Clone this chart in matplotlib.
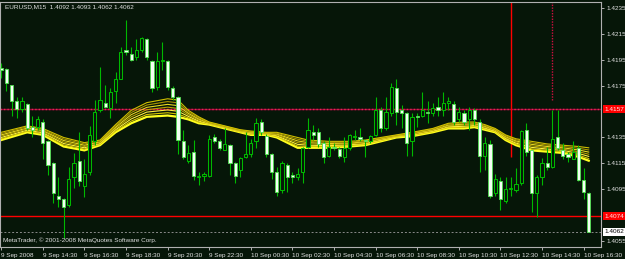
import matplotlib
matplotlib.use("Agg")
import matplotlib.pyplot as plt
from matplotlib.patches import Rectangle

# EURUSD M15, 9 Sep 12:30 .. 10 Sep 16:45
opens = [1.4189, 1.4188, 1.4176, 1.4163, 1.4157, 1.4161, 1.4143, 1.4143, 1.4147, 1.4132,
         1.4115, 1.4090, 1.4087, 1.4083, 1.4104, 1.4117, 1.4097, 1.4108, 1.4132, 1.4156,
         1.4162, 1.4158, 1.4171, 1.4180, 1.4203, 1.4200, 1.4197, 1.4203, 1.4211, 1.4194,
         1.4174, 1.4194, 1.4194, 1.4173, 1.4166, 1.4132, 1.4117, 1.4124, 1.4104, 1.4105,
         1.4105, 1.4135, 1.4132, 1.4125, 1.4129, 1.4115, 1.4110, 1.4120, 1.4122, 1.4132,
         1.4147, 1.4136, 1.4122, 1.4108, 1.4094, 1.4114, 1.4106, 1.4104, 1.4108, 1.4128,
         1.4139, 1.4139, 1.4131, 1.4121, 1.4128, 1.4126, 1.4120, 1.4127, 1.4135, 1.4135,
         1.4133, 1.4132, 1.4137, 1.4156, 1.4142, 1.4154, 1.4173, 1.4156, 1.4154, 1.4132,
         1.4152, 1.4152, 1.4155, 1.4154, 1.4159, 1.4156, 1.4162, 1.4161, 1.4149, 1.4154,
         1.4149, 1.4156, 1.4147, 1.4121, 1.4130, 1.4092, 1.4101, 1.4086, 1.4095, 1.4094,
         1.4100, 1.4141, 1.4125, 1.4092, 1.4104, 1.4115, 1.4112, 1.4135, 1.4125, 1.4122,
         1.4118, 1.4127, 1.4102, 1.4092]
highs = [1.4193, 1.4189, 1.4176, 1.4166, 1.4166, 1.4162, 1.4152, 1.4152, 1.4149, 1.4133,
         1.4116, 1.4104, 1.4088, 1.4112, 1.4123, 1.4139, 1.4118, 1.4144, 1.4164, 1.4190,
         1.4176, 1.4173, 1.4186, 1.4205, 1.4226, 1.4205, 1.4211, 1.4213, 1.4212, 1.4195,
         1.4201, 1.4209, 1.4195, 1.4175, 1.4167, 1.4141, 1.4129, 1.4133, 1.4108, 1.4108,
         1.4137, 1.4138, 1.4134, 1.4142, 1.4130, 1.4116, 1.4120, 1.4139, 1.4134, 1.4150,
         1.4149, 1.4138, 1.4123, 1.4112, 1.4117, 1.4115, 1.4108, 1.4111, 1.4128, 1.4150,
         1.4145, 1.4142, 1.4132, 1.4135, 1.4131, 1.4128, 1.4135, 1.4138, 1.4141, 1.4142,
         1.4134, 1.4137, 1.4166, 1.4159, 1.4166, 1.4177, 1.4180, 1.4160, 1.4155, 1.4154,
         1.4154, 1.4170, 1.4163, 1.4162, 1.4166, 1.4170, 1.4166, 1.4163, 1.4159, 1.4156,
         1.4159, 1.4158, 1.4149, 1.4135, 1.4133, 1.4107, 1.4104, 1.4104, 1.4104, 1.4111,
         1.4141, 1.4146, 1.4125, 1.4106, 1.4119, 1.4128, 1.4156, 1.4156, 1.4131, 1.4124,
         1.4132, 1.4129, 1.4111, 1.4093]
lows = [1.4181, 1.4171, 1.4152, 1.4150, 1.4155, 1.4141, 1.4135, 1.4141, 1.4118, 1.4106,
        1.4084, 1.4081, 1.4057, 1.4081, 1.4096, 1.4097, 1.4089, 1.4106, 1.4129, 1.4155,
        1.4158, 1.4150, 1.4162, 1.4180, 1.4199, 1.4194, 1.4195, 1.4201, 1.4195, 1.4170,
        1.4172, 1.4187, 1.4172, 1.4164, 1.4122, 1.4118, 1.4115, 1.4102, 1.4098, 1.4101,
        1.4104, 1.4131, 1.4125, 1.4125, 1.4106, 1.4100, 1.4104, 1.4119, 1.4120, 1.4127,
        1.4137, 1.4120, 1.4103, 1.4090, 1.4092, 1.4093, 1.4100, 1.4102, 1.4100, 1.4127,
        1.4133, 1.4128, 1.4115, 1.4120, 1.4125, 1.4119, 1.4116, 1.4125, 1.4133, 1.4132,
        1.4120, 1.4131, 1.4136, 1.4139, 1.4141, 1.4152, 1.4145, 1.4142, 1.4121, 1.4121,
        1.4143, 1.4151, 1.4146, 1.4152, 1.4152, 1.4152, 1.4156, 1.4145, 1.4147, 1.4145,
        1.4141, 1.4145, 1.4108, 1.4110, 1.4088, 1.4090, 1.4079, 1.4084, 1.4090, 1.4093,
        1.4098, 1.4121, 1.4077, 1.4073, 1.4098, 1.4110, 1.4111, 1.4125, 1.4118, 1.4116,
        1.4118, 1.4101, 1.4087, 1.4062]
closes = [1.4187, 1.4177, 1.4163, 1.4157, 1.4163, 1.4142, 1.4141, 1.4149, 1.4131, 1.4114,
          1.4092, 1.4087, 1.4081, 1.4103, 1.4115, 1.4101, 1.4107, 1.4137, 1.4155, 1.4164,
          1.4159, 1.4170, 1.4180, 1.4201, 1.4201, 1.4195, 1.4203, 1.4212, 1.4197, 1.4173,
          1.4194, 1.4195, 1.4174, 1.4166, 1.4133, 1.4120, 1.4123, 1.4105, 1.4105, 1.4107,
          1.4134, 1.4132, 1.4127, 1.4130, 1.4115, 1.4105, 1.4119, 1.4122, 1.4131, 1.4146,
          1.4139, 1.4122, 1.4108, 1.4093, 1.4115, 1.4104, 1.4104, 1.4107, 1.4127, 1.4141,
          1.4137, 1.4130, 1.4120, 1.4128, 1.4127, 1.4121, 1.4127, 1.4137, 1.4136, 1.4134,
          1.4132, 1.4136, 1.4156, 1.4142, 1.4155, 1.4174, 1.4155, 1.4154, 1.4131, 1.4151,
          1.4151, 1.4156, 1.4154, 1.4158, 1.4156, 1.4162, 1.4163, 1.4147, 1.4155, 1.4147,
          1.4156, 1.4149, 1.4121, 1.4131, 1.4090, 1.4103, 1.4087, 1.4095, 1.4096, 1.4099,
          1.4140, 1.4124, 1.4092, 1.4104, 1.4115, 1.4112, 1.4134, 1.4127, 1.4121, 1.4120,
          1.4124, 1.4102, 1.4093, 1.4062]

# moving average ribbon, upper and lower edge read at some bars
ma_bars = [0, 5, 8, 12, 16, 19, 22, 25, 28, 32, 34, 36, 38, 40, 43, 46, 48, 51, 53, 57,
           59, 63, 67, 70, 73, 76, 79, 83, 86, 89, 91, 93, 95, 97, 99, 102, 105, 108, 111, 113]
ma_upper = [1.4139, 1.4144, 1.4142, 1.4135, 1.4131, 1.4133, 1.4145, 1.4156, 1.4162, 1.4165,
            1.4164, 1.4156, 1.4151, 1.4147, 1.4144, 1.4141, 1.4140, 1.4139, 1.4139, 1.4135,
            1.4133, 1.4132, 1.4132, 1.4133, 1.4135, 1.4137, 1.4139, 1.4142, 1.4146, 1.4147,
            1.4147, 1.4145, 1.4142, 1.4137, 1.4134, 1.4132, 1.4130, 1.4129, 1.4128, 1.4127]
ma_lower = [1.4133, 1.4139, 1.4137, 1.4128, 1.4125, 1.4129, 1.4139, 1.4146, 1.4151, 1.4152,
            1.4151, 1.4149, 1.4146, 1.4145, 1.4142, 1.4139, 1.4137, 1.4137, 1.4135, 1.4127,
            1.4127, 1.4127, 1.4128, 1.4129, 1.4132, 1.4135, 1.4136, 1.4139, 1.4142, 1.4142,
            1.4143, 1.4141, 1.4139, 1.4133, 1.4129, 1.4125, 1.4124, 1.4123, 1.4120, 1.4117]

time_labels = ["9 Sep 2008", "9 Sep 14:30", "9 Sep 16:30", "9 Sep 18:30", "9 Sep 20:30",
               "9 Sep 22:30", "10 Sep 00:30", "10 Sep 02:30", "10 Sep 04:30", "10 Sep 06:30",
               "10 Sep 08:30", "10 Sep 10:30", "10 Sep 12:30", "10 Sep 14:30", "10 Sep 16:30"]
bars_per_label = 8
price_ticks = [1.4235, 1.4215, 1.4195, 1.4175, 1.4155, 1.4135, 1.4115, 1.4095, 1.4075, 1.4055]

level_top = 1.4157
level_bottom = 1.4074
bid = 1.4062
vline_solid = (98, 1.4120)    # bar, lower end
vline_dotted = (106, 1.4164)

bg = "#061608"
fg = "#e0e0e0"
up_col = "#00b800"
fs = 4.6
plt.rcParams["font.family"] = ["Liberation Sans", "DejaVu Sans"]

fig = plt.figure(figsize=(6.25, 2.59), dpi=100, facecolor=bg)
ax = fig.add_axes([0.0, 12 / 259, 600.7 / 625, 245.5 / 259], facecolor=bg)

n = len(closes)
ax.set_xlim(-0.23, 115.3)
ax.set_ylim(1.40501, 1.42404)

# horizontal / vertical lines
ax.axhline(level_top, color="#a0003c", lw=1.0, zorder=1)
ax.axhline(level_top, color="#e03050", lw=1.0, ls=(0, (1, 1.5)), zorder=1)
ax.axhline(level_bottom, color="#ff0000", lw=1.0, zorder=1)
ax.axhline(bid, color="#8a8a8a", lw=0.7, ls=(0, (2, 2)), zorder=1)
ax.vlines(vline_solid[0], vline_solid[1], 1.4240, color="#ff0000", lw=1.0, zorder=1)
ax.vlines(vline_dotted[0], vline_dotted[1], 1.4240, color="#d01040", lw=1.0,
          ls=(0, (1, 1)), zorder=1)

# MA ribbon
ribbon_cols = ["#ffff20", "#d8c800", "#fff040", "#b8a400", "#e8d820", "#a89400", "#d0c000"]
k = len(ribbon_cols)
for j, c in enumerate(ribbon_cols):
    w = j / (k - 1)
    ys = [lo + (hi - lo) * w for lo, hi in zip(ma_lower, ma_upper)]
    ax.plot(ma_bars, ys, color=c, lw=1.6 if j == 0 else 0.8, zorder=2)

# candles
body_w = 0.62
for i in range(n):
    o, h, l, c = opens[i], highs[i], lows[i], closes[i]
    ax.vlines(i, l, h, color=up_col, lw=0.8, zorder=3)
    lo_b, hi_b = min(o, c), max(o, c)
    if c > o:
        ax.add_patch(Rectangle((i - body_w / 2, lo_b), body_w, hi_b - lo_b,
                               facecolor=bg, edgecolor=up_col, lw=0.75, zorder=4))
    elif c < o:
        ax.add_patch(Rectangle((i - body_w / 2, lo_b), body_w, hi_b - lo_b,
                               facecolor="#f4fff4", edgecolor="#50e050", lw=0.6, zorder=4))
    else:
        ax.hlines(o, i - body_w / 2, i + body_w / 2, color=up_col, lw=0.8, zorder=4)

# axes styling
for s in ["top", "right", "bottom", "left"]:
    ax.spines[s].set_color("#b0b0b0")
    ax.spines[s].set_linewidth(0.8)
ax.yaxis.tick_right()
# 1.4155 and 1.4075 are covered by the level boxes, so they are left out
shown = [p for p in price_ticks
         if abs(p - level_top) > 0.0005 and abs(p - level_bottom) > 0.0005]
ax.set_yticks(shown)
ax.set_yticklabels([f"{p:.4f}" for p in shown])
ax.tick_params(axis="y", colors="#b0b0b0", labelcolor=fg, labelsize=fs, length=2.5,
               width=0.7, pad=1.5)

tick_pos = list(range(0, n, bars_per_label))
ax.set_xticks(tick_pos)
ax.set_xticklabels(time_labels, ha="left")
ax.tick_params(axis="x", colors="#b0b0b0", labelcolor=fg, labelsize=fs, length=2.5,
               width=0.7, pad=1.5)

# price labels in boxes on the right axis
ytrans = ax.get_yaxis_transform()
for val, fc, tc in [(level_top, "#ff0000", "#ffe8e8"), (level_bottom, "#ff0000", "#ffe8e8"),
                    (bid, "#ffffff", "#000000")]:
    ax.text(1.006, val, f"{val:.4f}", transform=ytrans, ha="left", va="center",
            fontsize=fs, color=tc, clip_on=False, zorder=6,
            bbox=dict(boxstyle="square,pad=0.25", fc=fc, ec="none"))

# header and footer text
ax.text(5 / 600.7, 0.99, "EURUSD,M15  1.4092 1.4093 1.4062 1.4062", transform=ax.transAxes,
        ha="left", va="top", fontsize=fs, color=fg, zorder=7)
ax.text(3 / 600.7, 0.015, "MetaTrader, \u00a9 2001-2008 MetaQuotes Software Corp.",
        transform=ax.transAxes, ha="left", va="bottom", fontsize=fs, color=fg, zorder=7)

fig.savefig("out.png", dpi=100, facecolor=bg)
